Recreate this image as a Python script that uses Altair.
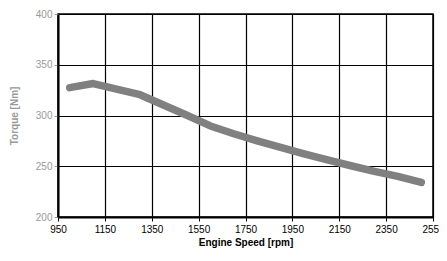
import altair as alt
import pandas as pd

rpm = [1000, 1100, 1200, 1300, 1400, 1500, 1600, 1700, 1800, 1900, 2000, 2100, 2200, 2300, 2400, 2500]
torque = [327.5, 331.5, 326, 320.5, 310.4, 300.3, 289.7, 282, 275, 268.5, 262.3, 256.3, 250.5, 245, 240, 234]
x_ticks = [950, 1150, 1350, 1550, 1750, 1950, 2150, 2350, 2550]
y_ticks = [200, 250, 300, 350, 400]

df = pd.DataFrame({"rpm": rpm, "torque": torque})

chart = alt.Chart(df).mark_line(
    color="#808080", strokeWidth=7.5, strokeCap="round", strokeJoin="round"
).encode(
    x=alt.X("rpm:Q", scale=alt.Scale(domain=[950, 2550], nice=False, zero=False),
            axis=alt.Axis(values=x_ticks, format="d", title="Engine Speed [rpm]", labelColor="#000000",
                          titleColor="#000000", labelFont="Liberation Sans", titleFont="Liberation Sans",
                          labelFontSize=10, titleFontSize=10, titleFontWeight="bold",
                          grid=True, gridColor="#000000", gridWidth=1.2, gridOpacity=1,
                          domainColor="#000000", domainWidth=2, tickColor="#000000", tickSize=4,
                          labelPadding=3, titlePadding=3, labelFlush=False)),
    y=alt.Y("torque:Q", scale=alt.Scale(domain=[200, 400], nice=False, zero=False),
            axis=alt.Axis(values=y_ticks, format="d", title="Torque [Nm]", labelColor="#999999",
                          titleColor="#999999", labelFont="Liberation Sans", titleFont="Liberation Sans",
                          labelFontSize=10, titleFontSize=10, titleFontWeight="bold",
                          grid=True, gridColor="#000000", gridWidth=1.2, gridOpacity=1,
                          domainColor="#000000", domainWidth=2, tickColor="#999999", tickSize=4,
                          labelPadding=2, titlePadding=16, labelFlush=False)),
).properties(
    width=375, height=203,
    autosize=alt.AutoSizeParams(type="none"),
    padding={"left": 50, "top": 6, "right": 6, "bottom": 36},
).configure_view(stroke="#000000", strokeWidth=1.5)

chart.save("out.html", embed_options={"renderer": "svg", "actions": False})
